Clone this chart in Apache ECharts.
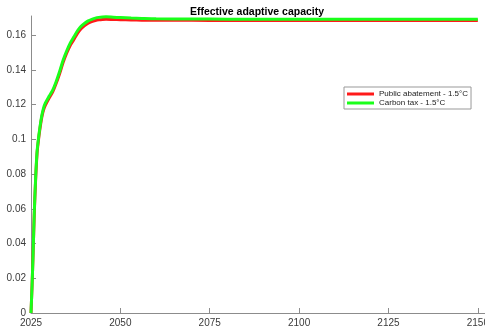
<!DOCTYPE html>
<html><head><meta charset="utf-8">
<script src="https://cdn.jsdelivr.net/npm/echarts@6/dist/echarts.min.js"></script>
<style>html,body{margin:0;padding:0;background:#fff}#c{width:485px;height:332px}</style>
</head><body><div id="c"></div>
<script>
var years = [2025, 2025.3, 2025.6, 2025.9, 2026.3, 2026.7, 2027, 2027.5, 2028, 2028.5, 2029, 2030, 2031, 2032, 2033, 2034, 2035, 2036, 2037, 2038, 2039, 2040, 2041, 2042, 2043, 2044, 2045, 2046, 2048, 2050, 2053, 2056, 2060, 2070, 2080, 2100, 2120, 2150];
var publicAbatement = [0, 0.016, 0.035, 0.056, 0.077, 0.092, 0.098, 0.106, 0.1125, 0.1168, 0.1195, 0.1235, 0.127, 0.132, 0.1378, 0.1443, 0.1497, 0.1542, 0.1575, 0.161, 0.1637, 0.1655, 0.1669, 0.1678, 0.1684, 0.1688, 0.169, 0.1691, 0.169, 0.1689, 0.1687, 0.1686, 0.1685, 0.1685, 0.1684, 0.1684, 0.1684, 0.1684];
var carbonTax = [0, 0.016, 0.035, 0.057, 0.078, 0.093, 0.099, 0.107, 0.1135, 0.118, 0.1208, 0.1246, 0.128, 0.133, 0.139, 0.1457, 0.151, 0.1555, 0.159, 0.1625, 0.1651, 0.1668, 0.1682, 0.1691, 0.1698, 0.1702, 0.1704, 0.1705, 0.1703, 0.1701, 0.1698, 0.1696, 0.1694, 0.1693, 0.1692, 0.1692, 0.1692, 0.1692];
var seriesNames = ['Public abatement - 1.5°C', 'Carbon tax - 1.5°C'];
var titleText = 'Effective adaptive capacity';

function pairs(xs, ys){ return xs.map(function(x,i){ return [x, ys[i]]; }); }
var chart = echarts.init(document.getElementById('c'), null, {renderer:'canvas'});
var axisCol = '#8c8c8c';
var labCol = '#3a3a3a';
chart.setOption({
  animation: false,
  backgroundColor: '#fff',
  title: { text: titleText, left: 252, top: 2, textAlign: 'center',
    textStyle: { fontFamily: 'Liberation Sans, Arial, sans-serif', fontSize: 10.5, fontWeight: 'bold', color: '#000' } },
  grid: { left: 31, right: 0, top: 16, bottom: 19, containLabel: false, outerBoundsMode: 'none' },
  legend: {
    orient: 'vertical', left: 344, top: 87,
    backgroundColor: '#fff', borderColor: '#999', borderWidth: 1, borderRadius: 0,
    padding: [3, 3, 2, 3], itemGap: 1, itemWidth: 27, itemHeight: 3, icon: 'rect',
    textStyle: { fontFamily: 'Liberation Sans, Arial, sans-serif', fontSize: 8, color: '#222' },
    data: seriesNames
  },
  xAxis: {
    type: 'value', min: 2025, max: 2152, interval: 25,
    axisLine: { lineStyle: { color: axisCol, width: 1 } },
    axisTick: { inside: true, length: 5, lineStyle: { color: axisCol } },
    axisLabel: { color: labCol, fontFamily: 'Liberation Sans, Arial, sans-serif', fontSize: 10, margin: 5,
      showMaxLabel: false, hideOverlap: false, formatter: function(v){ return String(v); } },
    splitLine: { show: false }
  },
  yAxis: {
    type: 'value', min: 0, max: 0.171, interval: 0.02,
    axisLine: { show: true, lineStyle: { color: axisCol, width: 1 } },
    axisTick: { show: true, inside: true, length: 5, lineStyle: { color: axisCol } },
    axisLabel: { color: labCol, fontFamily: 'Liberation Sans, Arial, sans-serif', fontSize: 10, margin: 5,
      showMaxLabel: false, formatter: function(v){ return v === 0 ? '0' : String(Math.round(v*100)/100); } },
    splitLine: { show: false }
  },
  series: [
    { name: seriesNames[0], type: 'line', data: pairs(years, publicAbatement), showSymbol: false, smooth: 0.3,
      lineStyle: { color: '#ff1a1a', width: 3 }, itemStyle: { color: '#ff1a1a' }, z: 2 },
    { name: seriesNames[1], type: 'line', data: pairs(years, carbonTax), showSymbol: false, smooth: 0.3,
      lineStyle: { color: '#1aff1a', width: 3 }, itemStyle: { color: '#1aff1a' }, z: 3 }
  ]
});
</script></body></html>
